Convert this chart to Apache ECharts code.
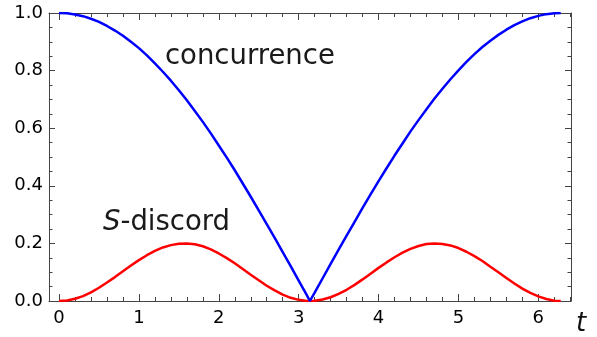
<!DOCTYPE html>
<html>
<head>
<meta charset="utf-8">
<script src="https://cdn.jsdelivr.net/npm/echarts@6/dist/echarts.min.js"></script>
<style>
  html, body { margin: 0; padding: 0; background: #fff; }
  #main { width: 597px; height: 337px; }
</style>
</head>
<body>
<div id="main"></div>
<script>
// t values
var tValues = [0, 0.1, 0.2, 0.3, 0.4, 0.5, 0.6, 0.7, 0.8, 0.9,
  1.0, 1.1, 1.2, 1.3, 1.4, 1.5, 1.6, 1.7, 1.8, 1.9,
  2.0, 2.1, 2.2, 2.3, 2.4, 2.5, 2.6, 2.7, 2.8, 2.9,
  3.0, 3.1, 3.14, 3.2, 3.3, 3.4, 3.5, 3.6, 3.7, 3.8, 3.9,
  4.0, 4.1, 4.2, 4.3, 4.4, 4.5, 4.6, 4.7, 4.8, 4.9,
  5.0, 5.1, 5.2, 5.3, 5.4, 5.5, 5.6, 5.7, 5.8, 5.9,
  6.0, 6.1, 6.2, 6.28];

// concurrence (blue)
var concurrence = [1.000, 0.999, 0.995, 0.989, 0.980, 0.969, 0.955, 0.939, 0.921, 0.900,
  0.878, 0.853, 0.825, 0.796, 0.765, 0.732, 0.697, 0.660, 0.622, 0.582,
  0.540, 0.498, 0.454, 0.408, 0.362, 0.315, 0.267, 0.219, 0.170, 0.121,
  0.071, 0.021, 0.000, 0.029, 0.079, 0.129, 0.178, 0.227, 0.275, 0.323, 0.370,
  0.416, 0.461, 0.505, 0.547, 0.589, 0.628, 0.666, 0.703, 0.737, 0.770,
  0.801, 0.830, 0.857, 0.882, 0.904, 0.924, 0.942, 0.958, 0.971, 0.982,
  0.990, 0.996, 0.999, 1.000];

// S-discord (red)
var sDiscord = [0.000, 0.002, 0.008, 0.017, 0.030, 0.046, 0.064, 0.083, 0.103, 0.123,
  0.142, 0.159, 0.174, 0.186, 0.194, 0.199, 0.200, 0.197, 0.190, 0.179,
  0.165, 0.149, 0.131, 0.111, 0.091, 0.072, 0.053, 0.037, 0.022, 0.011,
  0.004, 0.000, 0.000, 0.001, 0.005, 0.013, 0.025, 0.039, 0.056, 0.075, 0.095,
  0.115, 0.134, 0.152, 0.168, 0.181, 0.191, 0.198, 0.200, 0.198, 0.193,
  0.184, 0.171, 0.156, 0.139, 0.119, 0.100, 0.080, 0.061, 0.043, 0.028,
  0.016, 0.007, 0.001, 0.000];

// tick labels
var xMajor = [0, 1, 2, 3, 4, 5, 6];
var xMinor = [];
for (var k = 0; k <= 32; k++) {
  var v = Math.round(k * 0.2 * 10) / 10;
  if (v % 1 !== 0) xMinor.push(v);
}

var xMin = -0.1257, xMax = 6.409;
var frameColor = '#444';
var font = 'DejaVu Sans';

function pairs(ys) {
  return tValues.map(function (t, i) { return [t, ys[i]]; });
}

function xAxisDef(pos, ticks, len, showLine, showLabel) {
  return {
    type: 'value', gridIndex: 0, position: pos, min: xMin, max: xMax,
    axisLine: { show: showLine, onZero: false, lineStyle: { color: frameColor, width: 1 } },
    axisTick: { show: true, inside: true, length: len, customValues: ticks, lineStyle: { color: frameColor } },
    axisLabel: {
      show: showLabel, customValues: xMajor, margin: 8,
      fontSize: 18, fontFamily: font, color: '#000'
    },
    splitLine: { show: false }
  };
}

function yAxisDef(pos, showLabel) {
  return {
    type: 'value', gridIndex: 0, position: pos, min: 0, max: 1, interval: 0.2,
    axisLine: { show: true, onZero: false, lineStyle: { color: frameColor, width: 1 } },
    axisTick: { show: true, inside: true, length: 6, lineStyle: { color: frameColor } },
    minorTick: { show: true, splitNumber: 4, length: 3.5, lineStyle: { color: frameColor } },
    axisLabel: {
      show: showLabel, margin: 6, fontSize: 18, fontFamily: font, color: '#000',
      formatter: function (v) { return v.toFixed(1); }
    },
    splitLine: { show: false }
  };
}

var myChart = echarts.init(document.getElementById('main'));

var option = {
  animation: false,
  grid: { left: 49, right: 26, top: 13, bottom: 36, containLabel: false },
  xAxis: [
    xAxisDef('bottom', xMajor, 7, true, true),
    xAxisDef('bottom', xMinor, 4, false, false),
    xAxisDef('top', xMajor, 7, true, false),
    xAxisDef('top', xMinor, 4, false, false)
  ],
  yAxis: [
    yAxisDef('left', true),
    yAxisDef('right', false)
  ],
  series: [
    {
      name: 'S-discord', type: 'line', xAxisIndex: 0, yAxisIndex: 0,
      data: pairs(sDiscord), showSymbol: false, smooth: false,
      lineStyle: { color: '#ff0000', width: 2.5 }
    },
    {
      name: 'concurrence', type: 'line', xAxisIndex: 0, yAxisIndex: 0,
      data: pairs(concurrence), showSymbol: false, smooth: false,
      lineStyle: { color: '#0000ff', width: 2.5 }
    }
  ],
  graphic: [
    {
      type: 'text', left: 165, top: 43,
      style: { text: 'concurrence', font: '27.5px "DejaVu Sans"', fill: '#1a1a1a' }
    },
    {
      type: 'text', left: 103, top: 209,
      style: {
        text: '{i|S}-discord', font: '27.5px "DejaVu Sans"', fill: '#1a1a1a',
        rich: { i: { fontStyle: 'italic', fontSize: 27.5, fontFamily: font, fill: '#1a1a1a' } }
      }
    },
    {
      type: 'text', left: 576, top: 311,
      style: { text: 't', font: 'italic 26px "DejaVu Sans"', fill: '#111' }
    }
  ]
};

myChart.setOption(option);
</script>
</body>
</html>
